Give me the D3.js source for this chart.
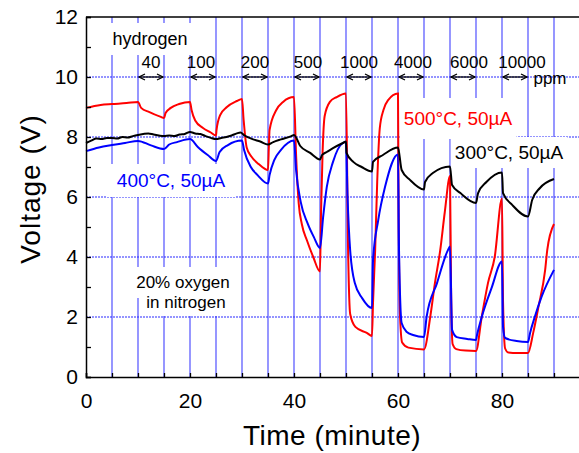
<!DOCTYPE html>
<html>
<head>
<meta charset="utf-8">
<script src="https://cdn.jsdelivr.net/npm/d3@7"></script>
<style>
  body { margin: 0; background: #fff; }
  text { font-family: "Liberation Sans", Arial, sans-serif; }
</style>
</head>
<body>
<div id="chart"></div>
<script>
// hydrogen exposure windows (minute) and concentrations (ppm)
const pulseStart = [10, 20, 30, 40, 50, 60, 70, 80];
const pulseLabel = ["40", "100", "200", "500", "1000", "4000", "6000", "10000"];

// 500°C, 50µA  [time, voltage]
const red500 = [
  [0, 8.97], [2.8, 9.07], [5, 9.1], [7.8, 9.13], [10, 9.17],
  [10.6, 8.97], [12.2, 8.83], [14.4, 8.67], [15, 8.63],
  [15.3, 8.8], [16.3, 8.97], [17.9, 9.1], [20, 9.17],
  [20.3, 8.9], [21, 8.55], [22.5, 8.3], [24, 8.15], [25, 8.05],
  [25.1, 8.23], [25.8, 8.73], [27.1, 9.0], [29, 9.2], [30, 9.27],
  [30.3, 8.6], [30.9, 7.65], [31.8, 7.35], [33.2, 7.1], [35, 6.9],
  [35.15, 7.6], [35.3, 8.23], [36.6, 8.9], [37.9, 9.17], [40, 9.33],
  [40.4, 7.4], [40.9, 5.8], [41.5, 5.1], [42.5, 4.55], [43.7, 4.0], [45, 3.52],
  [45.2, 5.5], [45.5, 7.5], [45.9, 8.7], [46.9, 9.17], [48.2, 9.33], [50, 9.45],
  [50.4, 4.23], [50.8, 2.1], [51.8, 1.67], [54, 1.47], [55, 1.37],
  [55.2, 2.5], [55.6, 4.2], [56, 6.5], [56.5, 8.3], [57.2, 8.9], [58.1, 9.23], [60, 9.45],
  [60.1, 6], [60.4, 2], [60.8, 1.15], [62, 0.98], [65, 0.92],
  [66.2, 2.0], [67.1, 3.13], [68.1, 4.2], [69, 5.5], [70, 6.7],
  [70.2, 3], [70.5, 1.1], [71.2, 0.93], [73, 0.88], [75, 0.87],
  [76.1, 2.0], [77.3, 3.13], [78.6, 4.0], [80, 5.95],
  [80.2, 2.5], [80.6, 0.95], [81.2, 0.82], [83, 0.8], [85, 0.8],
  [86, 1.47], [87, 2.33], [88.3, 3.57], [88.7, 4.23], [90, 5.1]
];

// 400°C, 50µA
const blue400 = [
  [0, 7.53], [2.5, 7.65], [5, 7.73], [7.5, 7.8], [10, 7.87],
  [12.5, 7.72], [15, 7.6],
  [16, 7.75], [17.5, 7.83], [20, 7.93],
  [21.5, 7.67], [23.4, 7.4], [25, 7.2],
  [25.7, 7.5], [27.3, 7.73], [30, 7.88],
  [30.4, 7.57], [31.7, 7.0], [33, 6.73], [35, 6.45],
  [35.3, 6.73], [36.2, 7.23], [37.5, 7.57], [40, 7.88],
  [40.4, 6.9], [41.3, 5.83], [42.6, 5.13], [43.8, 4.67], [45, 4.3],
  [45.6, 5.33], [46.3, 6.33], [47.5, 7.17], [49.4, 7.8], [50, 7.83],
  [50.3, 6.0], [50.8, 4.23], [51.7, 3.13], [53.1, 2.63], [55, 2.3],
  [55.2, 3.9], [56.2, 5.23], [57.5, 6.33], [60, 7.42],
  [60.2, 4.2], [60.7, 1.8], [61.7, 1.5], [62.9, 1.4], [65, 1.33],
  [65.5, 2.0], [67.5, 3.13], [69.6, 4.23], [70, 4.35],
  [70.4, 1.57], [71.3, 1.33], [73.3, 1.27], [75, 1.23],
  [75.2, 1.4], [76.1, 2.0], [78, 2.97], [80, 3.85],
  [80.2, 1.67], [80.6, 1.3], [82.8, 1.2], [85, 1.17],
  [85.4, 1.47], [86.3, 2.0], [87.6, 2.67], [90, 3.57]
];

// 300°C, 50µA
const black300 = [
  [0, 7.8], [1, 7.88], [2, 7.95], [3, 7.93], [4, 7.97], [5, 7.97], [6, 7.95],
  [7, 8.0], [8, 7.98], [9, 8.03], [10, 8.07], [11, 8.1], [12, 8.12], [13, 8.08],
  [14, 8.05], [15, 8.03], [16, 8.05], [17, 8.03], [18, 8.08], [19, 8.1], [20, 8.17],
  [21, 8.12], [22, 8.1], [23, 8.03], [24, 7.97], [25, 7.93], [26, 7.97], [27, 8.0],
  [28, 8.05], [29, 8.12], [29.7, 8.15], [30.5, 8.05], [32, 7.93], [33.5, 7.85],
  [35, 7.75], [36, 7.83], [37.5, 7.92], [39.5, 8.03], [40, 8.07],
  [41.2, 7.7], [43.1, 7.47], [45, 7.25],
  [45.4, 7.4], [46.3, 7.5], [47.5, 7.63], [49.4, 7.8], [50, 7.85],
  [50.1, 7.47], [51.4, 7.17], [53, 7.0], [55, 6.85],
  [55.2, 7.17], [57.1, 7.4], [60, 7.65],
  [60.7, 6.9], [62.3, 6.57], [65, 6.25],
  [65.2, 6.5], [66.7, 6.8], [70, 7.02],
  [70.4, 6.4], [72, 6.13], [75, 5.8],
  [75.4, 6.13], [77, 6.5], [80, 6.82],
  [80.2, 6.13], [82, 5.73], [85, 5.35],
  [85.8, 5.9], [87.3, 6.3], [90, 6.6]
];

const xTicks = d3.range(0, 95, 5);
const xLabels = [0, 20, 40, 60, 80];
const yTicks = d3.range(0, 13, 1);
const yLabels = [0, 2, 4, 6, 8, 10, 12];

const width = 579, height = 453;
const plotLeft = 86, plotTop = 17, plotBottom = 377;

const x = d3.scaleLinear().domain([0, 95]).range([plotLeft, plotLeft + 95 * 5.2]);
const y = d3.scaleLinear().domain([0, 12]).range([plotBottom, plotTop]);

const svg = d3.select("#chart").append("svg")
  .attr("width", width).attr("height", height);

// grid
svg.append("g").selectAll("line").data(xTicks.filter(d => d > 0)).join("line")
  .attr("x1", d => x(d)).attr("x2", d => x(d))
  .attr("y1", plotTop).attr("y2", plotBottom)
  .attr("stroke", "#6a6aff").attr("stroke-width", 1.4);

svg.append("g").selectAll("line").data(yLabels.filter(d => d > 0 && d < 12)).join("line")
  .attr("x1", plotLeft).attr("x2", width)
  .attr("y1", d => y(d)).attr("y2", d => y(d))
  .attr("stroke", "#2a2aff").attr("stroke-width", 1.2)
  .attr("stroke-dasharray", "2,1");

// label boxes + texts
const boxes = svg.append("g");
const labels = svg.append("g");

function boxedText(txt, cx, baseY, size, color, padX, padY) {
  const t = labels.append("text")
    .attr("x", cx).attr("y", baseY)
    .attr("text-anchor", "middle")
    .attr("font-size", size).attr("fill", color)
    .text(txt);
  const b = t.node().getBBox();
  boxes.append("rect")
    .attr("x", b.x - padX).attr("y", b.y - padY)
    .attr("width", b.width + 2 * padX).attr("height", b.height + 2 * padY)
    .attr("fill", "#fff");
  return t;
}

boxedText("hydrogen", 150, 45, 18, "#000", 9, 6);
boxedText("500°C, 50µA", 458, 125, 19, "#f00", 4, 10);
boxedText("300°C, 50µA", 509, 159, 19, "#000", 4, 5);
boxedText("400°C, 50µA", 171, 187, 19, "#00f", 10, 6);
boxedText("20% oxygen", 183, 288, 17, "#000", 5, 6);
boxedText("in nitrogen", 186, 308, 17, "#000", 5, 4);

// curves
const line = d3.line()
  .x(d => x(d[0])).y(d => y(d[1]))
  .curve(d3.curveMonotoneX);

[[red500, "#ff0000"], [blue400, "#0000ff"], [black300, "#000000"]].forEach(([data, c]) => {
  svg.append("path").datum(data)
    .attr("d", line)
    .attr("fill", "none").attr("stroke", c).attr("stroke-width", 2);
});

// hydrogen pulse arrows
const arrowG = svg.append("g").attr("stroke", "#000").attr("fill", "none").attr("stroke-width", 1.3);
pulseStart.forEach(s => {
  const x0 = x(s) + 1, x1 = x(s + 5) - 1, yy = y(10);
  arrowG.append("line").attr("x1", x0).attr("x2", x1).attr("y1", yy).attr("y2", yy);
  arrowG.append("path").attr("d", `M${x0 + 6},${yy - 3}L${x0},${yy}L${x0 + 6},${yy + 3}`);
  arrowG.append("path").attr("d", `M${x1 - 6},${yy - 3}L${x1},${yy}L${x1 - 6},${yy + 3}`);
});

const concDx = [0, -2, 0, 1, 0, 2, 6, 7];
labels.selectAll(".conc").data(pulseStart).join("text")
  .attr("class", "conc")
  .attr("x", (d, i) => x(d + 2.5) + concDx[i])
  .attr("y", 68)
  .attr("text-anchor", "middle")
  .attr("font-size", 17)
  .text((d, i) => pulseLabel[i]);

labels.append("text").attr("x", 550).attr("y", 84)
  .attr("text-anchor", "middle").attr("font-size", 17).text("ppm");

// axes
const xAxis = d3.axisBottom(x).tickValues(xTicks).tickSize(-4).tickPadding(16)
  .tickFormat(d => xLabels.includes(d) ? d : "");
const yAxis = d3.axisLeft(y).tickValues(yTicks).tickSize(-5).tickPadding(8)
  .tickFormat(d => yLabels.includes(d) ? d : "");

const gx = svg.append("g").attr("transform", `translate(0,${plotBottom})`).call(xAxis);
const gy = svg.append("g").attr("transform", `translate(${plotLeft},0)`).call(yAxis);
[gx, gy].forEach(g => {
  g.select(".domain").attr("stroke", "#000").attr("stroke-width", 1.5);
  g.selectAll(".tick line").attr("stroke", "#000").attr("stroke-width", 1.3);
  g.selectAll(".tick text").attr("font-size", 21).attr("fill", "#000")
    .attr("font-family", "'Liberation Sans', Arial, sans-serif");
});

svg.append("line").attr("x1", plotLeft).attr("x2", width + 5)
  .attr("y1", plotTop).attr("y2", plotTop)
  .attr("stroke", "#000").attr("stroke-width", 1.5);

// titles
svg.append("text")
  .attr("transform", `translate(40,189) rotate(-90)`)
  .attr("text-anchor", "middle").attr("font-size", 28)
  .attr("letter-spacing", 1)
  .text("Voltage (V)");

svg.append("text")
  .attr("x", 332).attr("y", 445)
  .attr("text-anchor", "middle").attr("font-size", 28)
  .attr("letter-spacing", 0.5)
  .text("Time (minute)");
</script>
</body>
</html>
